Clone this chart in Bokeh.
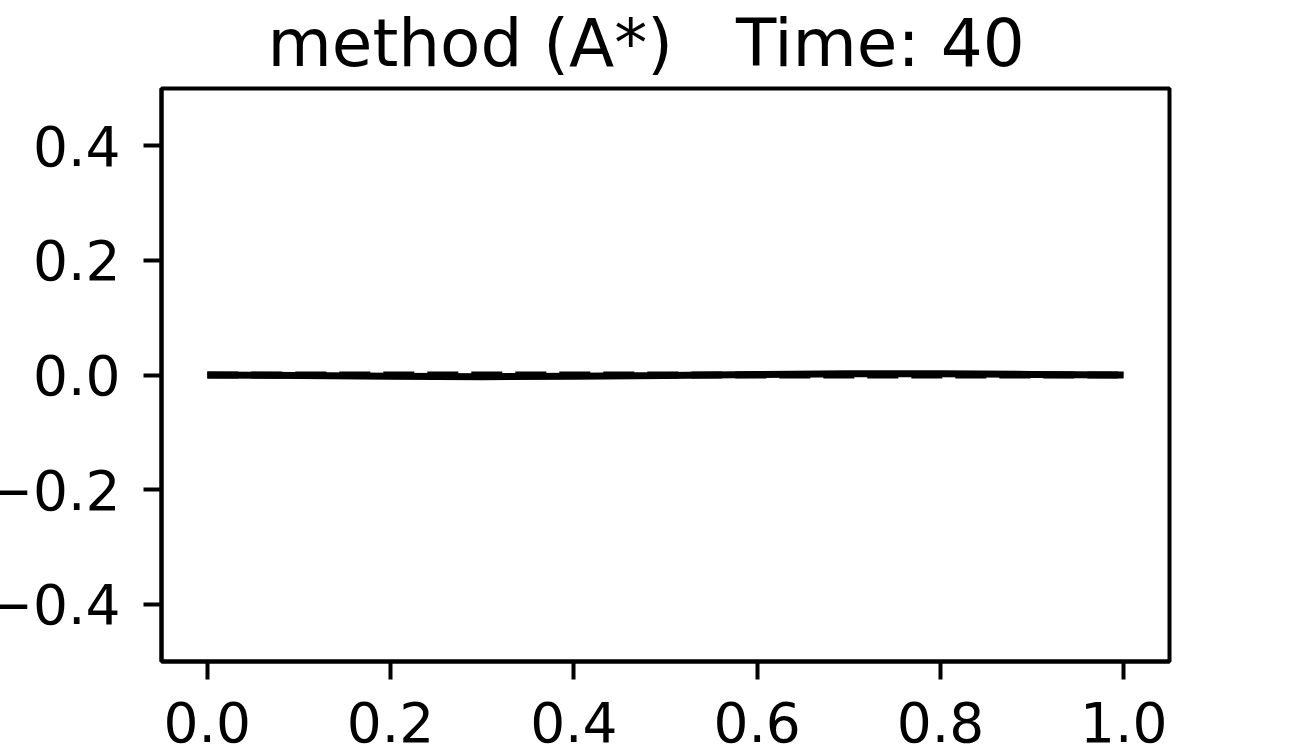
from bokeh.plotting import figure
from bokeh.models import FixedTicker, CustomJSTickFormatter, Range1d
from bokeh.embed import file_html
from bokeh.resources import INLINE

# data
x_vals = [0.0, 0.1, 0.2, 0.3, 0.4, 0.5, 0.6, 0.7, 0.8, 0.9, 1.0]
y_solid = [0.0, -0.001, -0.002, -0.003, -0.002, -0.001, 0.001, 0.002, 0.002, 0.001, 0.0]
y_dashed = [0.0, 0.0, 0.0, 0.0, 0.0, 0.0, 0.0, 0.0, 0.0, 0.0, 0.0]
x_ticks = [0.0, 0.2, 0.4, 0.6, 0.8, 1.0]
y_ticks = [-0.4, -0.2, 0.0, 0.2, 0.4]
title_text = "method (A*) \u00a0 Time: 40"

FONT = "DejaVu Sans"

p = figure(frame_width=1008, frame_height=573, output_backend="svg", toolbar_location=None,
           x_range=Range1d(-0.05, 1.05), y_range=Range1d(-0.5, 0.5),
           min_border_left=179, min_border_top=90, min_border_right=110, min_border_bottom=95,
           margin=(-5, 0, 0, -18))
p.title.text = title_text
p.title.align = "left"
p.title.offset = 106
p.title.text_font = FONT
p.title.text_font_size = "66px"
p.title.text_font_style = "normal"
p.title.text_color = "black"
p.title.standoff = 14

p.line(x_vals, y_solid, line_color="black", line_width=7)
p.line(x_vals, y_dashed, line_color="black", line_width=7, line_dash="31 13")

p.grid.visible = False
p.outline_line_color = "black"
p.outline_line_width = 4
p.background_fill_color = "white"
p.border_fill_color = "white"

for ax in (p.xaxis[0], p.yaxis[0]):
    ax.axis_line_width = 4
    ax.axis_line_color = "black"
    ax.major_tick_line_width = 4
    ax.major_tick_line_color = "black"
    ax.major_tick_out = 18
    ax.major_tick_in = 0
    ax.minor_tick_line_color = None
    ax.major_label_text_font = FONT
    ax.major_label_text_font_size = "55px"
    ax.major_label_text_color = "black"
    ax.formatter = CustomJSTickFormatter(code="return tick.toFixed(1).replace('-', '\u2212');")

p.xaxis[0].ticker = FixedTicker(ticks=x_ticks)
p.yaxis[0].ticker = FixedTicker(ticks=y_ticks)
p.xaxis[0].major_label_standoff = 22
p.yaxis[0].major_label_standoff = 23

open("out.html", "w").write(file_html(p, INLINE))
